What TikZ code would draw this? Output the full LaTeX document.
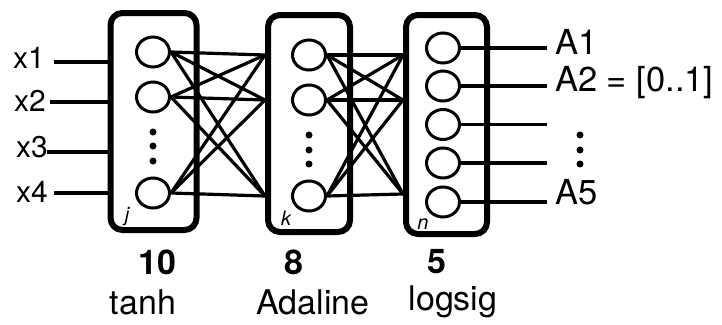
\documentclass[tikz,border=0pt]{standalone}
\usepackage{fontspec}
\setmainfont{TeX Gyre Heros}
\usetikzlibrary{shapes.geometric}
\tikzset{
  layerbox/.style={draw, line width=6pt, rounded corners=12pt, inner sep=0pt, minimum width=#1},
  neuron/.style={draw, ellipse, line width=3pt, minimum width=33pt, minimum height=30pt, inner sep=0pt},
  wire/.style={line width=3.2pt},
  inlab/.style={font=\fontsize{30}{34}\selectfont, inner sep=0pt, anchor=east},
  outlab/.style={font=\fontsize{34.5}{38}\selectfont, inner sep=0pt, anchor=west},
  botlab/.style={font=\fontsize{34}{38}\selectfont, inner sep=0pt},
  numlab/.style={font=\fontsize{34}{38}\selectfont\bfseries, inner sep=0pt},
  idx/.style={font=\fontsize{20}{22}\selectfont\itshape, inner sep=0pt},
  dot/.style={circle, fill, inner sep=0pt, minimum size=7pt}
}
\begin{document}
\begin{tikzpicture}[x=1pt,y=-1pt]
\useasboundingbox (0,0) rectangle (722,324);
% boxes
\node[layerbox=86pt, minimum height=217pt] (B1) at (153.5,121.5) {};
\node[layerbox=82pt, minimum height=217pt] (B2) at (309,123.5) {};
\node[layerbox=81pt, minimum height=219pt] (B3) at (446.5,124.5) {};
% layer 1 neurons
\node[neuron] (a1) at (153,52) {};
\node[neuron] (a2) at (153,97) {};
\node[neuron] (a3) at (153,193) {};
\node[dot] (ad1) at (153,132) {};
\node[dot] (ad2) at (153,146) {};
\node[dot] (ad3) at (153,161) {};
% layer 2 neurons
\node[neuron] (b1) at (309,55) {};
\node[neuron] (b2) at (309,100) {};
\node[neuron] (b3) at (309,196) {};
\node[dot] (bd1) at (309,135) {};
\node[dot] (bd2) at (309,150) {};
\node[dot] (bd3) at (309,164) {};
% layer 3 neurons
\node[neuron] (c1) at (443,48) {};
\node[neuron] (c2) at (443,86) {};
\node[neuron] (c3) at (443,124.5) {};
\node[neuron] (c4) at (443,163) {};
\node[neuron] (c5) at (443,202) {};
% index labels
\node[idx] (lj) at (127,217) {j};
\node[idx] (lk) at (286,218) {k};
\node[idx] (ln) at (423,224) {n};
% input labels and wires
\node[inlab] (x1) at (45,58) {x1};
\node[inlab] (x2) at (46,101) {x2};
\node[inlab] (x3) at (48,147) {x3};
\node[inlab] (x4) at (48,192) {x4};
\coordinate (x1s) at (54,62);
\coordinate (x2s) at (50,102);
\coordinate (x3s) at (47,152);
\coordinate (x4s) at (54,193);
\draw[wire] (x1s) -- (B1.west |- x1s);
\draw[wire] (x2s) -- (B1.west |- x2s);
\draw[wire] (x3s) -- (B1.west |- x3s);
\draw[wire] (x4s) -- (B1.west |- x4s);
% layer 1 -> layer 2
\foreach \s in {a1,a2,a3}
  \foreach \t in {b1,b2,b3}
    \draw[wire] (\s.east) -- (B2.west |- \t);
% layer 2 -> layer 3
\coordinate (t1) at (405,55);
\coordinate (t2) at (405,100);
\coordinate (t3) at (405,194);
\foreach \s in {b1,b2,b3}
  \foreach \t in {t1,t2,t3}
    \draw[wire] (\s.east) -- (B3.west |- \t);
% outputs
\foreach \c in {c1,c2,c3,c4,c5}
  \draw[wire] (\c.east) -- (547,0 |- \c);
\node[outlab] (A1) at (555,42) {A1};
\node[outlab] (A2) at (555,83) {A2 = [0..1]};
\node[outlab] (A5) at (555,192) {A5};
\node[dot] (od1) at (580,135) {};
\node[dot] (od2) at (580,150) {};
\node[dot] (od3) at (580,164) {};
% bottom labels
\node[numlab] (n1) at (157,262) {10};
\node[numlab] (n2) at (294,262) {8};
\node[numlab] (n3) at (437,262) {5};
\node[botlab] (f1) at (143,302) {tanh};
\node[botlab] (f2) at (313,302) {Adaline};
\node[botlab] (f3) at (453,302) {logsig};
\end{tikzpicture}
\end{document}
